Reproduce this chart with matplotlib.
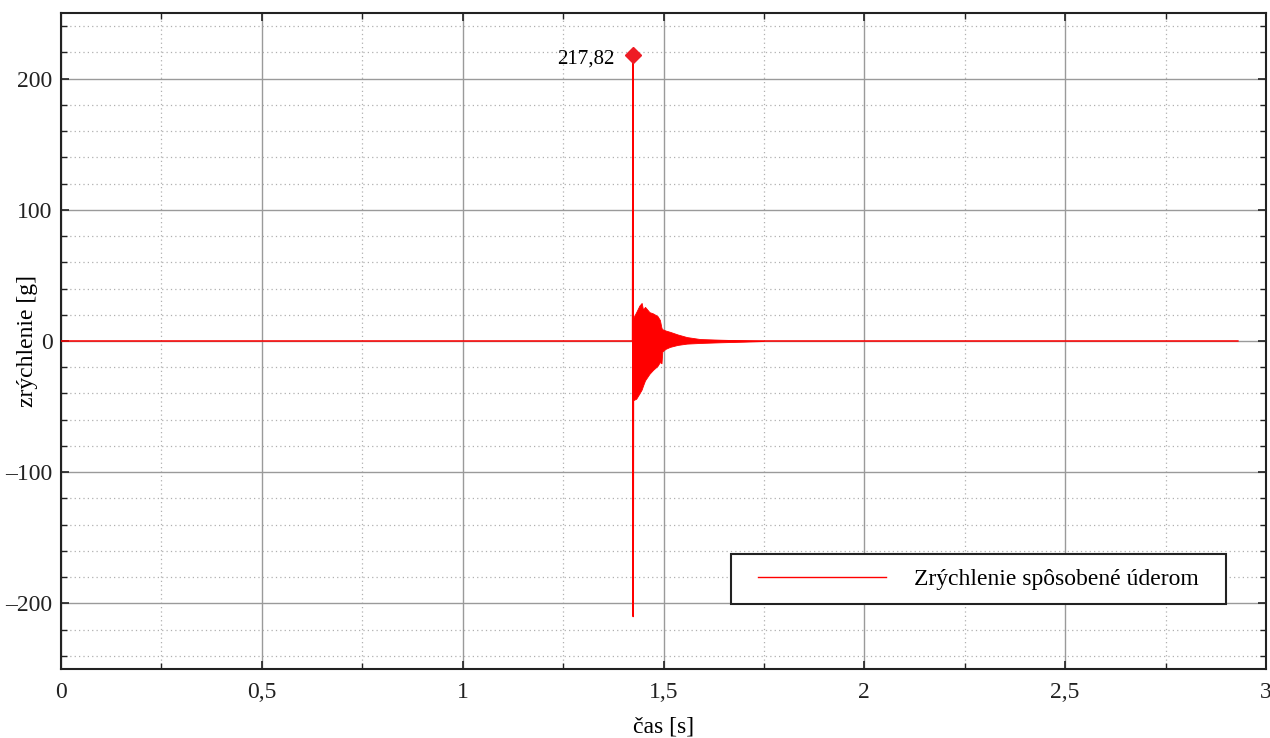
import matplotlib
matplotlib.use("Agg")
import matplotlib.pyplot as plt
from matplotlib.ticker import MultipleLocator, FuncFormatter
from matplotlib.path import Path

# ---- data ----
# baseline + impact spike (time [s], acceleration [g])
t_line = [0.0, 1.4230, 1.4240, 1.4245, 1.4252, 2.93]
a_line = [0.0, 0.0, 217.82, -210.0, 0.0, 0.0]

# decaying oscillation envelope after the impact
t_env = [1.4252, 1.432, 1.440, 1.4456, 1.449, 1.454, 1.465, 1.474, 1.485,
         1.491, 1.495, 1.497, 1.505, 1.516, 1.535, 1.558, 1.591, 1.640,
         1.700, 1.750]
env_upper = [18, 22, 27, 29, 24, 26, 22, 21, 19, 16, 10, 9, 8, 7, 5, 3, 1.5,
             1.0, 0.5, 0.0]
env_lower = [-45, -44, -40, -37, -34, -30, -25, -22, -19, -16, -17, -8, -6,
             -4.5, -3, -2, -1.5, -1.0, -0.5, 0.0]

peak_t = 1.424
peak_val = 217.82
peak_label = "217,82"

legend_label = "Zrýchlenie spôsobené úderom"
xlabel = "čas [s]"
ylabel = "zrýchlenie [g]"

# ---- figure ----
plt.rcParams['font.family'] = ['Liberation Serif', 'DejaVu Serif']
fig = plt.figure(figsize=(12.7, 7.38), dpi=100)
ax = fig.add_axes([61/1270, (738-669)/738, 1205/1270, 656/738])

red = '#ff0000'
ax.fill_between(t_env, env_lower, env_upper, color=red, linewidth=0.6,
                edgecolor=red, zorder=3)
ax.plot(t_line, a_line, color=red, linewidth=1.1, zorder=4,
        label=legend_label)
ax.plot([peak_t], [peak_val], marker='D', color='#ee1c25', markersize=8,
        linestyle='none', zorder=5)
ax.annotate(peak_label, xy=(peak_t, peak_val), xytext=(-13, -3),
            textcoords='offset points', ha='right', va='center',
            fontsize=15)

ax.set_xlim(0, 3)
ax.set_ylim(-250, 250)
ax.xaxis.set_major_locator(MultipleLocator(0.5))
ax.xaxis.set_minor_locator(MultipleLocator(0.25))
ax.yaxis.set_major_locator(MultipleLocator(100))
ax.yaxis.set_minor_locator(MultipleLocator(20))

def fmt_x(v, pos):
    return f"{v:g}".replace('.', ',')
def fmt_y(v, pos):
    return f"{v:g}".replace('-', '\u2013')
ax.xaxis.set_major_formatter(FuncFormatter(fmt_x))
ax.yaxis.set_major_formatter(FuncFormatter(fmt_y))

ax.grid(which='major', color='#9a9a9a', linewidth=1.0, linestyle='-')
ax.grid(which='minor', color='#b0b0b0', linewidth=0.9, linestyle=(0, (1, 2.5)))
ax.set_axisbelow(True)

ax.tick_params(which='both', direction='in', top=True, right=True,
               labelsize=17, colors='#222222')
ax.tick_params(which='major', length=6, width=1.2)
ax.tick_params(axis='x', which='major', pad=9)
ax.tick_params(axis='y', which='major', pad=6)
ax.tick_params(which='minor', length=4, width=1.0)
for sp in ax.spines.values():
    sp.set_linewidth(1.5)
    sp.set_color('#222222')

ax.set_xlabel(xlabel, fontsize=17)
ax.xaxis.set_label_coords(0.5, -(727 - 669) / 656, transform=ax.transAxes)
ax.xaxis.label.set_verticalalignment('center')
ax.set_ylabel(ylabel, fontsize=17)
ax.yaxis.set_label_coords(-(61 - 27) / 1205, 0.5, transform=ax.transAxes)
ax.yaxis.label.set_verticalalignment('center')

# legend frame with extra horizontal padding (in pixels)
HPAD = 13
def wide_box(x0, y0, width, height, mutation_size):
    xa, xb = x0 - HPAD, x0 + width + HPAD
    ya, yb = y0, y0 + height
    return Path([(xa, ya), (xb, ya), (xb, yb), (xa, yb), (xa, ya)], closed=True)

leg = ax.legend(loc='lower right',
                bbox_to_anchor=(0.9668 - HPAD / 1205, 0.099),
                borderaxespad=0, fontsize=17, handlelength=5.4,
                handletextpad=1.2, borderpad=0.6, fancybox=False,
                framealpha=1, edgecolor='#222222')
frame = leg.get_frame()
frame.set_linewidth(1.5)
try:
    frame.set_boxstyle(wide_box)
except Exception:
    pass
for l in leg.get_lines():
    l.set_linewidth(1.0)

fig.savefig('out.png', dpi=100)
